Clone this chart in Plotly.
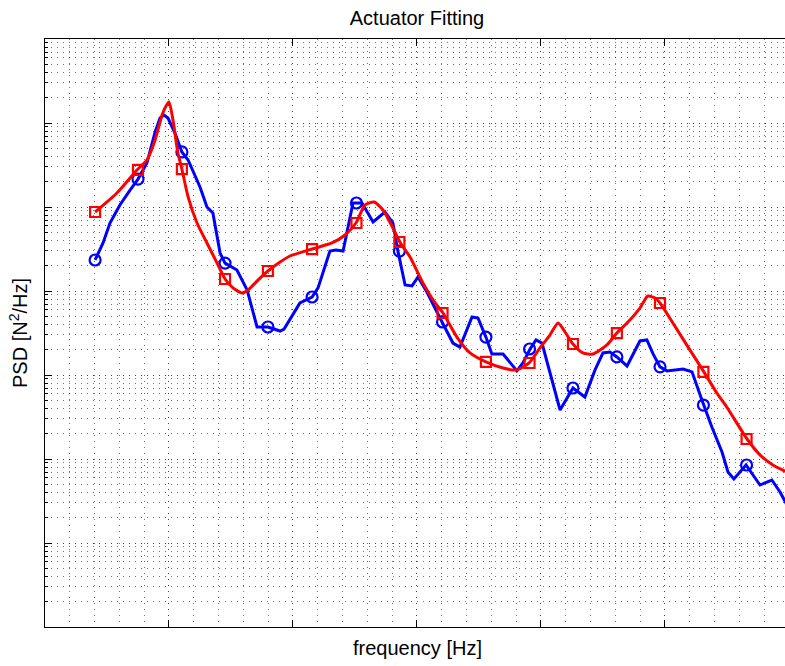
import plotly.graph_objects as go

# ---- measured data (frequency in Hz, PSD in N^2/Hz) ----
marker_freq = [20.2, 37.5, 55.2, 72.6, 89.9, 107.7, 125.6, 142.9, 160.3, 177.8,
               195.4, 212.9, 230.6, 248.0, 265.5, 282.9]
meas_marker_psd = [0.00234, 0.0215, 0.0452, 0.00215, 0.000373, 0.000848, 0.01116,
                   0.00299, 0.000428, 0.000283, 0.000204, 0.0000700, 0.000164,
                   0.000125, 0.0000439, 0.00000848]
fit_marker_psd = [0.00872, 0.0276, 0.0283, 0.00139, 0.00173, 0.00316, 0.00645,
                  0.00383, 0.000547, 0.000143, 0.000139, 0.000234, 0.000316,
                  0.000720, 0.000109, 0.0000173]

meas_freq = [20.2, 23.4, 26.2, 30.2, 34.3, 37.5, 41.1, 44.4, 46.4, 48.0, 49.6, 52.4,
             55.2, 57.7, 62.5, 65.3, 67.7, 70.6, 72.6, 77.4, 81.5, 85.5, 89.9, 94.8,
             96.4, 102.8, 107.7, 110.1, 114.9, 117.3, 120.2, 124.2, 125.8, 127.8,
             132.3, 137.1, 140.3, 142.3, 145.2, 148.0, 150.4, 154.0, 160.1, 164.5,
             167.3, 172.2, 174.6, 177.8, 180.2, 184.7, 190.3, 192.7, 195.6, 198.0,
             200.4, 203.6, 207.7, 212.9, 217.7, 221.8, 225.0, 227.8, 230.6, 234.7,
             239.9, 242.7, 245.2, 248.0, 250.8, 257.3, 260.9, 264.9, 268.9, 273.0,
             275.4, 277.8, 280.2, 282.7, 285.5, 288.3, 293.1, 296.4, 299.2]
meas_psd = [0.00234, 0.00373, 0.00645, 0.01056, 0.0159, 0.0215, 0.0334, 0.0781, 0.1147,
            0.1245, 0.1147, 0.0760, 0.0452, 0.0363, 0.0173, 0.0100, 0.00848, 0.00283,
            0.00215, 0.00178, 0.00103, 0.000373, 0.000373, 0.000334, 0.000353,
            0.000720, 0.000848, 0.00109, 0.00299, 0.00308, 0.00299, 0.01116, 0.01116,
            0.01116, 0.00663, 0.00872, 0.00645, 0.00299, 0.00118, 0.00115, 0.00147,
            0.000973, 0.000428, 0.000240, 0.000215, 0.000490, 0.000477, 0.000283,
            0.000178, 0.000178, 0.000112, 0.000139, 0.000204, 0.000261, 0.000240,
            0.000109, 0.0000383, 0.0000700, 0.0000547, 0.000115, 0.000183, 0.000188,
            0.000164, 0.000128, 0.000254, 0.000261, 0.000178, 0.000125, 0.000112,
            0.000118, 0.000109, 0.0000504, 0.0000240, 0.0000121, 0.00000700,
            0.00000578, 0.00000700, 0.00000848, 0.00000645, 0.00000490, 0.00000562,
            0.00000405, 0.00000283]

fit_freq = [20.2, 29.0, 37.1, 41.1, 44.4, 47.2, 48.8, 50.0, 51.6, 53.6, 55.2, 57.7,
            61.3, 65.3, 69.4, 72.6, 75.8, 79.4, 81.9, 85.9, 89.9, 94.8, 98.8, 107.7,
            115.7, 121.0, 125.4, 129.0, 132.7, 136.3, 140.3, 143.1, 147.2, 152.4,
            157.3, 160.5, 166.1, 171.4, 177.8, 184.7, 190.3, 195.2, 199.6, 203.6,
            206.9, 209.7, 212.9, 216.9, 221.0, 226.6, 230.6, 234.7, 239.9, 243.1,
            246.0, 248.0, 253.2, 260.1, 265.7, 270.9, 274.9, 283.1, 288.3, 293.5,
            299.2]
fit_psd = [0.00872, 0.0147, 0.0276, 0.0363, 0.0627, 0.1245, 0.1594, 0.1778, 0.1086,
           0.0439, 0.0283, 0.0132, 0.00645, 0.00373, 0.00215, 0.00139, 0.00109,
           0.000947, 0.00103, 0.00135, 0.00173, 0.00221, 0.00261, 0.00316, 0.00373,
           0.00464, 0.00645, 0.0105, 0.01147, 0.00921, 0.00562, 0.00383, 0.00254,
           0.00125, 0.000720, 0.000547, 0.000283, 0.000183, 0.000143, 0.000121,
           0.000115, 0.000139, 0.000210, 0.000299, 0.000416, 0.000325, 0.000234,
           0.000183, 0.000178, 0.000228, 0.000316, 0.000416, 0.000627, 0.000872,
           0.000825, 0.000720, 0.000416, 0.000198, 0.000109, 0.0000610, 0.0000416,
           0.0000173, 0.0000112, 0.00000848, 0.00000700]

BLUE = "rgb(0,0,255)"
RED = "rgb(255,0,0)"

fig = go.Figure()
fig.add_trace(go.Scatter(x=meas_freq, y=meas_psd, mode="lines",
                         line=dict(color=BLUE, width=3), showlegend=False))
fig.add_trace(go.Scatter(x=marker_freq, y=meas_marker_psd, mode="markers",
                         marker=dict(symbol="circle-open", size=11, color=BLUE,
                                     line=dict(width=2.2, color=BLUE)),
                         showlegend=False))
fig.add_trace(go.Scatter(x=fit_freq, y=fit_psd, mode="lines",
                         line=dict(color=RED, width=3, shape="spline", smoothing=0.6),
                         showlegend=False))
fig.add_trace(go.Scatter(x=marker_freq, y=fit_marker_psd, mode="markers",
                         marker=dict(symbol="square-open", size=10, color=RED,
                                     line=dict(width=2.2, color=RED)),
                         showlegend=False))

FONT = "Liberation Sans, Arial, Helvetica, sans-serif"
GRID_MAJOR = "rgba(0,0,0,0.75)"
GRID_MINOR = "rgba(0,0,0,0.55)"
DASH = "1px,5px"

fig.update_layout(
    width=785, height=666,
    margin=dict(l=45, r=0, t=39, b=39),
    paper_bgcolor="white", plot_bgcolor="white",
    font=dict(family=FONT, size=20, color="black"),
    title=dict(text="Actuator Fitting", x=(45 + 372) / 785, xanchor="center",
               y=1 - 18 / 666, yanchor="middle", yref="container",
               font=dict(size=20, family=FONT, color="black")),
    xaxis=dict(range=[0, 298.4], showticklabels=False, ticks="inside", ticklen=7,
               tickcolor="black", tick0=0, dtick=50, showline=True, linecolor="black",
               linewidth=1.2, mirror="ticks", zeroline=False,
               showgrid=True, gridcolor=GRID_MAJOR, griddash=DASH, gridwidth=1,
               minor=dict(dtick=10, showgrid=True, gridcolor=GRID_MINOR,
                          griddash=DASH, gridwidth=1, ticks="")),
    yaxis=dict(type="log", range=[-7, 0], showticklabels=False, ticks="inside",
               ticklen=7, tickcolor="black", dtick=1, showline=True,
               linecolor="black", linewidth=1.2, mirror=False, zeroline=False,
               showgrid=True, gridcolor=GRID_MAJOR, griddash=DASH, gridwidth=1,
               minor=dict(dtick="D1", showgrid=True, gridcolor=GRID_MINOR,
                          griddash=DASH, gridwidth=1, ticks="inside", ticklen=3,
                          tickcolor="black")),
    annotations=[
        dict(text="frequency [Hz]", xref="paper", yref="paper",
             x=372 / 740, y=-(648 - 627) / 588, xanchor="center", yanchor="middle",
             showarrow=False, font=dict(size=20, family=FONT, color="black")),
        dict(text="PSD [N<sup>2</sup>/Hz]", xref="paper", yref="paper",
             x=(18 - 45) / 740, y=(627 - 333) / 588, xanchor="center",
             yanchor="middle", textangle=-90, showarrow=False,
             font=dict(size=20, family=FONT, color="black")),
    ],
)

fig.write_html("out.html")
